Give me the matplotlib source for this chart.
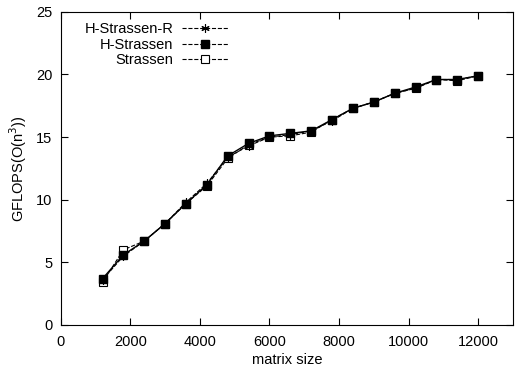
import matplotlib
matplotlib.use("Agg")
import matplotlib.pyplot as plt
from matplotlib.lines import Line2D

plt.rcParams['font.family'] = ['Liberation Sans', 'DejaVu Sans']

sizes = [1200, 1800, 2400, 3000, 3600, 4200, 4800, 5400, 6000, 6600,
         7200, 7800, 8400, 9000, 9600, 10200, 10800, 11400, 12000]
h_strassen_r = [3.6, 5.5, 6.7, 8.1, 9.8, 11.3, 13.4, 14.3, 15.0, 15.2,
                15.5, 16.3, 17.3, 17.8, 18.5, 18.9, 19.6, 19.6, 19.9]
h_strassen = [3.7, 5.6, 6.7, 8.1, 9.7, 11.2, 13.5, 14.5, 15.1, 15.3,
              15.5, 16.4, 17.3, 17.8, 18.5, 19.0, 19.6, 19.6, 19.9]
strassen = [3.4, 6.0, 6.7, 8.1, 9.7, 11.1, 13.3, 14.4, 15.0, 15.1,
            15.4, 16.4, 17.3, 17.8, 18.5, 18.9, 19.6, 19.5, 19.9]
labels = ['H-Strassen-R', 'H-Strassen', 'Strassen']

fig = plt.figure(figsize=(5.15, 3.71), dpi=100)
ax = fig.add_axes([0.118, 0.124, 0.878, 0.844])

ax.plot(sizes, strassen, color='black', ls='--', lw=0.8, marker='s', ms=5.5,
        mfc='white', mec='black', mew=0.8)
ax.plot(sizes, h_strassen_r, color='black', ls='--', lw=0.8, marker=(6, 2, 0), ms=6,
        mew=0.8)
ax.plot(sizes, h_strassen, color='black', ls='-', lw=1.0, marker='s', ms=5.5,
        mfc='black', mec='black')

handles = [
    Line2D([], [], color='black', ls='--', lw=0.8, marker=(6, 2, 0), ms=6, mew=0.8),
    Line2D([], [], color='black', ls='--', lw=0.8, marker='s', ms=5.5, mfc='black'),
    Line2D([], [], color='black', ls='--', lw=0.8, marker='s', ms=5.5, mfc='white', mew=0.8),
]
leg = ax.legend(handles, labels, loc='upper left', markerfirst=False, frameon=False,
                fontsize=10.5, handlelength=3.1, borderaxespad=0.0, labelspacing=0.1,
                handletextpad=0.6, bbox_to_anchor=(0.04, 0.985), alignment='right')
for t in leg.get_texts():
    t.set_ha('right')

ax.set_xlim(0, 13000)
ax.set_ylim(0, 25)
ax.set_xticks(range(0, 12001, 2000))
ax.set_yticks(range(0, 26, 5))
ax.tick_params(direction='in', top=True, right=True, labelsize=10.5, length=5, width=0.8)
ax.tick_params(axis='x', pad=7)
ax.tick_params(axis='y', pad=6)
ax.set_xlabel('matrix size', fontsize=10.5, labelpad=3)
ax.set_ylabel('GFLOPS(O(n$^3$))', fontsize=10.5, labelpad=5)
for s in ax.spines.values():
    s.set_linewidth(0.8)

fig.savefig('out.png', dpi=100)
